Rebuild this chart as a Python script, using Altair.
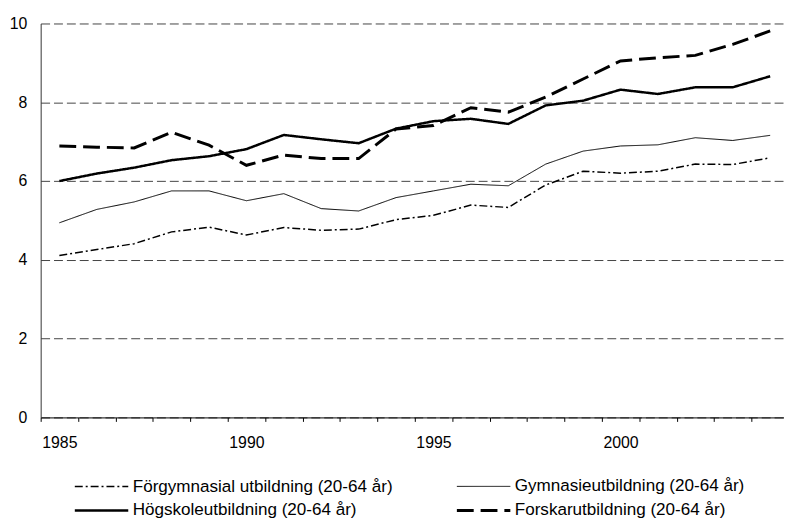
import altair as alt
import pandas as pd

years = list(range(1985, 2005))
series_names = [
    "Förgymnasial utbildning (20-64 år)",
    "Gymnasieutbildning (20-64 år)",
    "Högskoleutbildning (20-64 år)",
    "Forskarutbildning (20-64 år)",
]
forgymnasial = [4.11, 4.26, 4.41, 4.71, 4.83, 4.63, 4.82, 4.75, 4.78, 5.02,
                5.13, 5.39, 5.33, 5.90, 6.25, 6.20, 6.25, 6.43, 6.42, 6.59]
gymnasie = [4.94, 5.28, 5.47, 5.75, 5.75, 5.50, 5.68, 5.30, 5.24, 5.58,
            5.75, 5.92, 5.88, 6.43, 6.76, 6.89, 6.92, 7.10, 7.03, 7.16]
hogskole = [6.00, 6.19, 6.34, 6.53, 6.63, 6.81, 7.17, 7.06, 6.96, 7.33,
            7.52, 7.58, 7.45, 7.92, 8.04, 8.32, 8.21, 8.38, 8.38, 8.66]
forskar = [6.89, 6.86, 6.84, 7.24, 6.91, 6.40, 6.66, 6.57, 6.57, 7.32,
           7.41, 7.86, 7.75, 8.13, 8.59, 9.05, 9.13, 9.19, 9.47, 9.81]
y_ticks = [0, 2, 4, 6, 8, 10]

rows = []
for name, vals in zip(series_names, [forgymnasial, gymnasie, hogskole, forskar]):
    for yr, v in zip(years, vals):
        rows.append({"year": yr, "value": v, "serie": name})
df = pd.DataFrame(rows)

FONT = "Liberation Sans"
x_tick_vals = [y - 0.5 for y in years]

# legend fills column by column: order so rows read as in the reference
legend_order = [series_names[0], series_names[2], series_names[1], series_names[3]]
dash_map = {series_names[0]: [8, 3, 2, 3], series_names[1]: [1, 0],
            series_names[2]: [1, 0], series_names[3]: [17, 7]}
width_map = {series_names[0]: 1.5, series_names[1]: 1,
             series_names[2]: 2.5, series_names[3]: 3}

chart = alt.Chart(df).mark_line(color="black", strokeCap="butt", strokeJoin="miter").encode(
    x=alt.X("year:Q",
            scale=alt.Scale(domain=[1984.5, 2004.37], nice=False, zero=False),
            axis=alt.Axis(title=None, values=x_tick_vals, grid=False,
                          labelExpr="(datum.value + 0.5) % 5 == 0 ? toString(datum.value + 0.5) : ''",
                          labelOffset=18.9, labelOverlap=False, labelBound=False,
                          labelFlush=False, tickSize=4, tickColor="black",
                          domainColor="black", labelPadding=13)),
    y=alt.Y("value:Q",
            scale=alt.Scale(domain=[0, 10], nice=False),
            axis=alt.Axis(title=None, values=y_ticks, format="d", ticks=False,
                          labelPadding=14, grid=True, gridDash=[9, 4],
                          gridColor="#444", gridWidth=1, domainColor="#333")),
    strokeDash=alt.StrokeDash("serie:N",
                              scale=alt.Scale(domain=legend_order,
                                              range=[dash_map[s] for s in legend_order]),
                              legend=alt.Legend(title=None)),
    strokeWidth=alt.StrokeWidth("serie:N",
                                scale=alt.Scale(type="ordinal", domain=legend_order,
                                                range=[width_map[s] for s in legend_order]),
                                legend=alt.Legend(title=None)),
    order="year:Q",
).properties(
    width=751,
    height=398,
    autosize=alt.AutoSizeParams(type="none"),
    padding={"left": 33, "top": 13, "right": 0, "bottom": 100},
).configure_view(
    stroke=None
).configure_axis(
    labelFont=FONT, labelFontSize=16, labelColor="black"
).configure_legend(
    orient="none", legendX=52, legendY=458.5, columns=2,
    symbolType="M-3.375,0H3.375", symbolSize=256, symbolStrokeColor="black",
    labelFont=FONT, labelFontSize=17.25, labelColor="black", labelLimit=400,
    labelOffset=22, columnPadding=58, rowPadding=6, symbolOffset=0,
    padding=0
)

chart.save("out.html", embed_options={"renderer": "svg", "actions": False})
